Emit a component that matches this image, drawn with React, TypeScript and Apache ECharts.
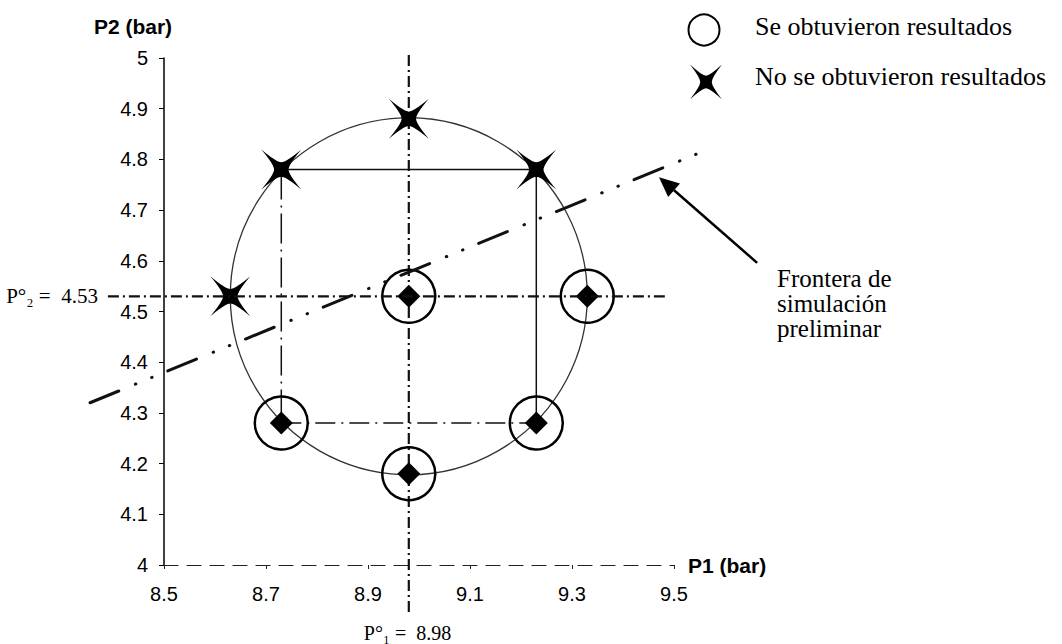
import React, { useEffect, useRef } from "react";
import * as echarts from "echarts";

// ---------- data ----------
const xTickValues = [8.5, 8.7, 8.9, 9.1, 9.3, 9.5];
const nominalPoint = [8.98, 4.53];
const designRadius = 0.35;
const successPoints = [
  [8.98, 4.53],
  [9.33, 4.53],
  [8.73, 4.28],
  [9.23, 4.28],
  [8.98, 4.18],
];
const failPoints = [
  [8.73, 4.78],
  [8.98, 4.88],
  [9.23, 4.78],
  [8.63, 4.53],
];
const frontierLine = [
  [8.355, 4.32],
  [9.555, 4.815],
];
const p1Line = [
  [8.98, 5.006],
  [8.98, 3.9],
];
const p2Line = [
  [8.39, 4.53],
  [9.482, 4.53],
];
const rectTop = [
  [8.73, 4.78],
  [9.23, 4.78],
];
const rectRight = [
  [9.23, 4.78],
  [9.23, 4.28],
];
const rectLeft = [
  [8.73, 4.78],
  [8.73, 4.28],
];
const rectBottom = [
  [8.73, 4.28],
  [9.23, 4.28],
];
const arrowTail = [9.663, 4.596];
const arrowTip = [9.4706, 4.765];

const legendLabels = ["Se obtuvieron resultados", "No se obtuvieron resultados"];
const frontierLabel = "Frontera de\nsimulación\npreliminar";
const p1Label = "P°₁ =  8.98";
const p2Label = "P°₂ =  4.53";

const STAR_D =
  "M0,0 Q38,32 50,32 Q62,32 100,0 Q68,38 68,50 Q68,62 100,100 Q62,68 50,68 Q38,68 0,100 Q32,62 32,50 Q32,38 0,0 Z";
echarts.graphic.registerShape("star4", echarts.graphic.extendPath(STAR_D, {}));

const SANS = "'Liberation Sans', Arial, sans-serif";
const SERIF = "'Liberation Serif', 'Times New Roman', serif";

function lineSeries(id: string, data: number[][], width: number, type: any) {
  return {
    id,
    type: "line",
    data,
    symbol: "none",
    clip: false,
    silent: true,
    z: 2,
    lineStyle: { color: "#111", width, type },
  };
}

export default function App() {
  const ref = useRef<HTMLDivElement>(null);

  useEffect(() => {
    const el = ref.current!;
    const chart = echarts.init(el, undefined, { renderer: "svg" });

    const option: any = {
      animation: false,
      backgroundColor: "#fff",
      grid: { left: 164, top: 58, width: 510, height: 507 },
      xAxis: {
        type: "value",
        min: 8.5,
        max: 9.5,
        name: "P1 (bar)",
        nameLocation: "end",
        nameGap: 14,
        nameTextStyle: {
          fontFamily: SANS,
          fontSize: 21,
          fontWeight: "bold",
          color: "#000",
          align: "left",
          verticalAlign: "middle",
          padding: [0, 0, 8, 0],
        },
        axisLine: { onZero: false, lineStyle: { color: "#222", width: 1.2, type: [14, 9] } },
        axisTick: { show: true, length: 4, customValues: xTickValues, lineStyle: { color: "#222" } },
        axisLabel: {
          customValues: xTickValues,
          formatter: (v: number) => v.toFixed(1),
          fontFamily: SANS,
          fontSize: 20,
          color: "#000",
          margin: 19,
        },
        splitLine: { show: false },
      },
      yAxis: {
        type: "value",
        min: 4,
        max: 5,
        interval: 0.1,
        axisLine: { onZero: false, lineStyle: { color: "#000", width: 1.5 } },
        axisTick: { show: true, length: 5, lineStyle: { color: "#000" } },
        axisLabel: {
          formatter: (v: number) => String(Math.round(v * 10) / 10),
          fontFamily: SANS,
          fontSize: 20,
          color: "#000",
          margin: 16,
        },
        splitLine: { show: false },
      },
      series: [
        {
          id: "ring",
          type: "scatter",
          data: [nominalPoint],
          symbol: "circle",
          symbolSize: 356,
          silent: true,
          z: 1,
          itemStyle: { color: "rgba(0,0,0,0)", borderColor: "#333", borderWidth: 1.3, opacity: 1 },
        },
        lineSeries("p1", p1Line, 2.2, [11, 4, 2, 4]),
        lineSeries("rectTop", rectTop, 1.5, "solid"),
        lineSeries("rectRight", rectRight, 1.5, "solid"),
        lineSeries("rectLeft", rectLeft, 1.5, [30, 6, 2, 6]),
        lineSeries("rectBottom", rectBottom, 1.5, [20, 6, 2, 6]),
        {
          id: "success",
          name: legendLabels[0],
          type: "scatter",
          data: successPoints,
          symbol: "circle",
          symbolSize: 53,
          silent: true,
          z: 3,
          itemStyle: { color: "rgba(0,0,0,0)", borderColor: "#000", borderWidth: 2.5, opacity: 1 },
        },
        {
          id: "successCore",
          type: "scatter",
          data: successPoints,
          symbol: "diamond",
          symbolSize: 23,
          silent: true,
          z: 4,
          itemStyle: { color: "#000", opacity: 1 },
        },
        {
          id: "fail",
          name: legendLabels[1],
          type: "scatter",
          data: failPoints,
          symbol: "path://" + STAR_D,
          symbolSize: [40, 40],
          silent: true,
          z: 4,
          itemStyle: { color: "#000", opacity: 1 },
        },
      ],
    };

    chart.setOption(option);

    const px = (p: number[]) => chart.convertToPixel({ gridIndex: 0 }, p) as number[];
    const c = px(nominalPoint);
    const e = px([nominalPoint[0] + designRadius, nominalPoint[1]]);
    const ringSize = 2 * Math.abs(e[0] - c[0]);

    const tail = px(arrowTail);
    const tip = px(arrowTip);
    const dx = tip[0] - tail[0];
    const dy = tip[1] - tail[1];
    const len = Math.hypot(dx, dy);
    const ux = dx / len;
    const uy = dy / len;
    const headL = 20;
    const headW = 9;
    const bx = tip[0] - ux * headL;
    const by = tip[1] - uy * headL;
    const bottom = px([nominalPoint[0], 3.9]);
    const leftP2 = px(p2Line[0]);

    chart.setOption({
      series: [{ id: "ring", symbolSize: ringSize }],
      graphic: [
        {
          type: "polyline",
          z: 5,
          silent: true,
          shape: { points: p2Line.map(px) },
          style: { stroke: "#111", lineWidth: 2.2, lineDash: [11, 4, 2, 4], fill: null },
        },
        {
          type: "polyline",
          z: 5,
          silent: true,
          shape: { points: frontierLine.map(px) },
          style: {
            stroke: "#111",
            lineWidth: 3,
            lineDash: [31, 18, 0.5, 17, 0.5, 17],
            lineCap: "round",
            fill: null,
          },
        },
        {
          type: "text",
          x: 133,
          y: 26,
          style: {
            text: "P2 (bar)",
            fontFamily: SANS,
            fontSize: 21,
            fontWeight: "bold",
            fill: "#000",
            align: "center",
            verticalAlign: "middle",
          },
        },
        {
          type: "circle",
          shape: { cx: 704, cy: 30, r: 15.5 },
          style: { fill: "none", stroke: "#000", lineWidth: 2 },
        },
        {
          type: "star4",
          x: 706 - 16,
          y: 82 - 17.5,
          scaleX: 0.32,
          scaleY: 0.35,
          style: { fill: "#000" },
        },
        {
          type: "text",
          x: 755,
          y: 26,
          style: {
            text: legendLabels[0],
            fontFamily: SERIF,
            fontSize: 26,
            fill: "#000",
            align: "left",
            verticalAlign: "middle",
          },
        },
        {
          type: "text",
          x: 755,
          y: 76,
          style: {
            text: legendLabels[1],
            fontFamily: SERIF,
            fontSize: 26,
            fill: "#000",
            align: "left",
            verticalAlign: "middle",
          },
        },
        {
          type: "line",
          shape: { x1: tail[0], y1: tail[1], x2: bx, y2: by },
          style: { stroke: "#000", lineWidth: 2.5 },
        },
        {
          type: "polygon",
          shape: {
            points: [
              [tip[0], tip[1]],
              [bx - uy * headW, by + ux * headW],
              [bx + uy * headW, by - ux * headW],
            ],
          },
          style: { fill: "#000" },
        },
        {
          type: "text",
          x: 777,
          y: 266,
          style: {
            text: frontierLabel,
            fontFamily: SERIF,
            fontSize: 25,
            lineHeight: 25,
            fill: "#000",
            align: "left",
            verticalAlign: "top",
          },
        },
        {
          type: "text",
          x: leftP2[0] - 10,
          y: leftP2[1],
          style: {
            text: p2Label,
            fontFamily: SERIF,
            fontSize: 21,
            fill: "#000",
            align: "right",
            verticalAlign: "middle",
          },
        },
        {
          type: "text",
          x: c[0] - 45,
          y: bottom[1] + 17,
          style: {
            text: p1Label,
            fontFamily: SERIF,
            fontSize: 20,
            fill: "#000",
            align: "left",
            verticalAlign: "middle",
          },
        },
      ],
    });

    return () => chart.dispose();
  }, []);

  return (
    <div
      ref={ref}
      style={{ position: "fixed", left: 0, top: 0, width: 1062, height: 644, background: "#fff" }}
    />
  );
}
